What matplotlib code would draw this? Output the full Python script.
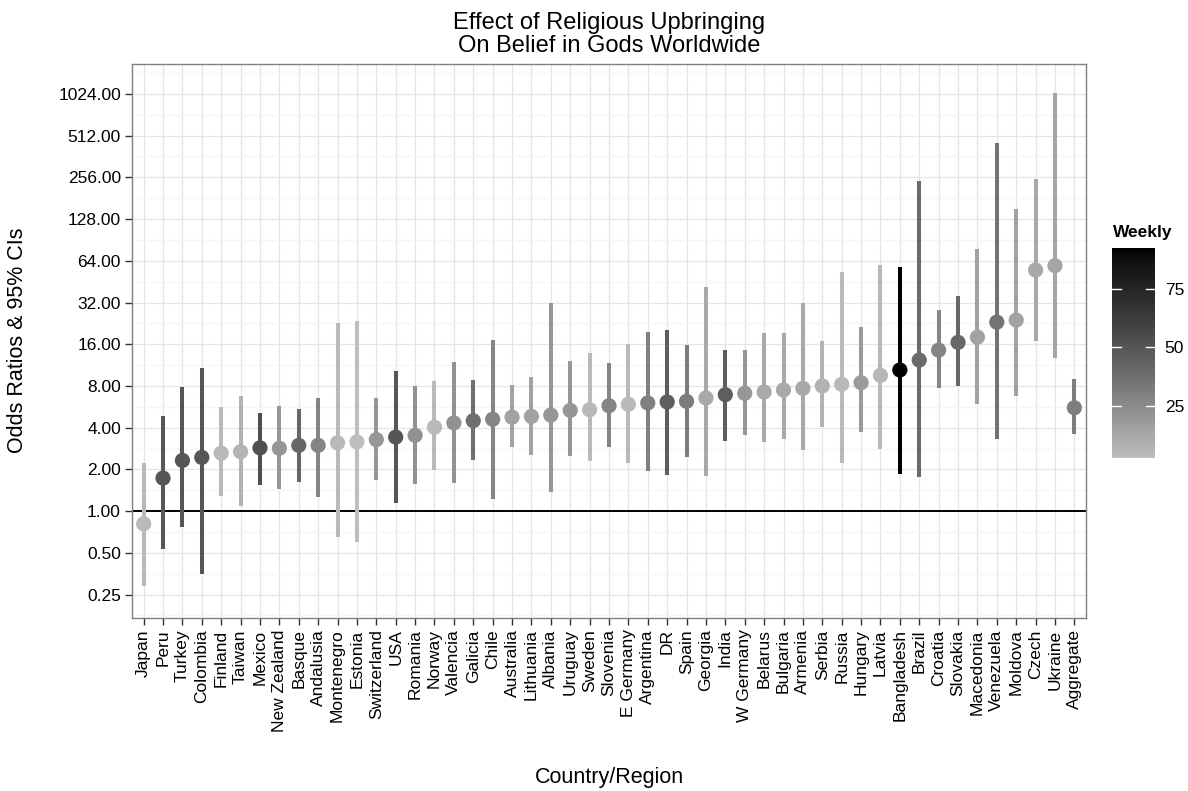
import numpy as np
import matplotlib.pyplot as plt
from matplotlib.colors import ListedColormap, Normalize
from matplotlib.ticker import NullFormatter

plt.rcParams['font.family'] = ['Liberation Sans', 'DejaVu Sans']

countries = ['Japan', 'Peru', 'Turkey', 'Colombia', 'Finland', 'Taiwan', 'Mexico',
             'New Zealand', 'Basque', 'Andalusia', 'Montenegro', 'Estonia', 'Switzerland',
             'USA', 'Romania', 'Norway', 'Valencia', 'Galicia', 'Chile', 'Australia',
             'Lithuania', 'Albania', 'Uruguay', 'Sweden', 'Slovenia', 'E Germany',
             'Argentina', 'DR', 'Spain', 'Georgia', 'India', 'W Germany', 'Belarus',
             'Bulgaria', 'Armenia', 'Serbia', 'Russia', 'Hungary', 'Latvia', 'Bangladesh',
             'Brazil', 'Croatia', 'Slovakia', 'Macedonia', 'Venezuela', 'Moldova', 'Czech',
             'Ukraine', 'Aggregate']

odds = [0.81, 1.73, 2.32, 2.44, 2.62, 2.68, 2.86, 2.84, 2.98, 2.98, 3.11, 3.16, 3.28,
        3.42, 3.52, 4.03, 4.33, 4.49, 4.60, 4.76, 4.82, 4.93, 5.33, 5.39, 5.76, 5.90,
        6.03, 6.13, 6.20, 6.55, 6.92, 7.08, 7.23, 7.48, 7.69, 8.00, 8.22, 8.44, 9.53,
        10.43, 12.3, 14.5, 16.5, 18.0, 23.1, 23.9, 54.9, 59.0, 5.57]

ci_low = [0.29, 0.53, 0.77, 0.35, 1.28, 1.09, 1.53, 1.44, 1.62, 1.27, 0.65, 0.60, 1.67,
          1.15, 1.57, 1.98, 1.59, 2.32, 1.22, 2.88, 2.52, 1.38, 2.49, 2.30, 2.92, 2.23,
          1.96, 1.81, 2.47, 1.80, 3.20, 3.56, 3.17, 3.31, 2.76, 4.02, 2.23, 3.72, 2.79,
          1.85, 1.77, 7.73, 8.03, 5.93, 3.31, 6.80, 17.0, 12.7, 3.58]

ci_high = [2.21, 4.88, 7.84, 10.7, 5.63, 6.72, 5.11, 5.76, 5.43, 6.56, 22.7, 23.4, 6.60,
           10.2, 7.98, 8.62, 11.9, 8.88, 17.3, 8.08, 9.31, 31.6, 12.2, 13.9, 11.8, 16.0,
           19.5, 20.3, 15.8, 41.4, 14.5, 14.6, 19.4, 19.3, 31.9, 16.9, 52.9, 21.2, 59.7,
           58.0, 241, 28.3, 35.7, 77.8, 455, 151, 249, 1045, 8.93]

weekly = [5, 50, 50, 50, 5, 8, 53, 20, 42, 28, 5, 3, 20, 50, 22, 5, 22, 38, 28, 15,
          15, 20, 20, 5, 28, 5, 30, 46, 32, 12, 46, 20, 12, 12, 12, 8, 5, 18, 6, 92,
          40, 28, 42, 15, 36, 15, 12, 14, 31]


def lab_grey(t):
    # grey -> black interpolated in Lab lightness, like ggplot's gradient
    L = 77.0 * (1 - t)
    Y = np.where(L > 8, ((L + 16) / 116) ** 3, L / 903.3)
    return np.where(Y > 0.0031308, 1.055 * Y ** (1 / 2.4) - 0.055, 12.92 * Y)


ramp = lab_grey(np.linspace(0, 1, 256))
cmap = ListedColormap(np.column_stack([ramp, ramp, ramp]))
norm = Normalize(2.8, 92.5)

W, H = 1188, 791
fig = plt.figure(figsize=(W / 100, H / 100), dpi=100)
ax = fig.add_axes([132 / W, 1 - 618.3 / H, (1086 - 132) / W, (618.3 - 64.3) / H])

x = np.arange(len(countries))
cols = cmap(norm(np.array(weekly)))

ax.axhline(1, color='black', lw=1.4, zorder=2)
ax.vlines(x, ci_low, ci_high, colors=cols, lw=2.9, zorder=3)
ax.scatter(x, odds, c=cols, s=120, zorder=4, edgecolors='none')

ax.set_yscale('log', base=2)
yt = 2.0 ** np.arange(-2, 11)
ax.set_yticks(yt)
ax.set_yticklabels(['%.2f' % v for v in yt])
ax.set_yticks(2.0 ** (np.arange(-3, 11) + 0.5), minor=True)
ax.yaxis.set_minor_formatter(NullFormatter())
ax.set_ylim(2 ** -2.57, 2 ** 10.71)
ax.set_xlim(-0.6, len(countries) - 0.4)
ax.set_xticks(x)
ax.set_xticklabels(countries, rotation=90)

ax.grid(True, which='major', color='#E5E5E5', lw=0.9, zorder=0)
ax.grid(True, which='minor', axis='y', color='#F5F5F5', lw=0.9, zorder=0)
ax.set_axisbelow(True)
ax.tick_params(which='major', length=5, width=1, color='#333333', labelsize=12.5,
               labelcolor='black', pad=3)
ax.tick_params(which='minor', length=0)
for s in ax.spines.values():
    s.set_color('#7F7F7F')
    s.set_linewidth(1)

fig.text(609 / W, 1 - 12 / H, 'Effect of Religious Upbringing\nOn Belief in Gods Worldwide',
         ha='center', va='top', fontsize=17, linespacing=1.05)
fig.text(609 / W, 1 - 777 / H, 'Country/Region', ha='center', va='center', fontsize=15.5)
fig.text(18 / W, 1 - 340 / H, 'Odds Ratios & 95% CIs', ha='center', va='center',
         rotation=90, fontsize=15.5)

# colour bar legend
cax = fig.add_axes([1112 / W, 1 - 458 / H, 43 / W, 210 / H])
grad = np.linspace(norm.vmin, norm.vmax, 256).reshape(-1, 1)
cax.imshow(grad, cmap=cmap, norm=norm, aspect='auto', origin='lower',
           extent=(0, 1, norm.vmin, norm.vmax))
for v in [25, 50, 75]:
    cax.plot([0, 0.2], [v, v], color='white', lw=1)
    cax.plot([0.8, 1], [v, v], color='white', lw=1)
cax.set_xlim(0, 1)
cax.set_ylim(norm.vmin, norm.vmax)
cax.set_xticks([])
cax.set_yticks([25, 50, 75])
cax.yaxis.tick_right()
cax.tick_params(length=0, labelsize=12.5, pad=7)
for s in cax.spines.values():
    s.set_visible(False)
fig.text(1113 / W, 1 - 232 / H, 'Weekly', ha='left', va='center', fontsize=12.5,
         fontweight='bold')

fig.savefig('out.png', dpi=100)
